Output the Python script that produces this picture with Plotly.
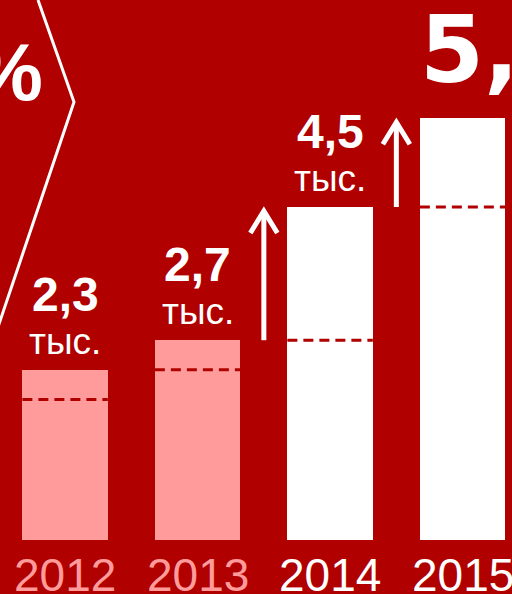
import plotly.graph_objects as go

# ---- data ----
years = ["2012", "2013", "2014", "2015"]
values = [2.3, 2.7, 4.5, 5.7]          # тыс.
prev_values = [1.9, 2.3, 2.7, 4.5]     # previous-year level (dashed marks)
value_labels = ["2,3", "2,7", "4,5", "5,7"]
unit_label = "тыс."
is_forecast = [False, False, True, True]

BG = "#B00000"
PINK = "#FF9B9B"
WHITE = "#FFFFFF"
FONT = "Liberation Sans, Arial, sans-serif"
FONT_WIDE = "DejaVu Sans, Verdana, sans-serif"

W, H = 512, 594
x_idx = list(range(len(years)))
bar_w = 0.645
colors = [WHITE if f else PINK for f in is_forecast]

px_per_unit = 74.0
base_px = 540.0
y_top = base_px / px_per_unit
y_bot = -(H - base_px) / px_per_unit
x0_px, pitch = 65.1, 132.5
dx = 1 / pitch        # data units per pixel (x)
dy = 1 / px_per_unit  # data units per pixel (y)

fig = go.Figure()
fig.add_trace(go.Bar(
    x=x_idx, y=values, width=bar_w,
    marker=dict(color=colors, line=dict(width=0)),
    hoverinfo="skip", showlegend=False,
))

shapes = []
annotations = []

# dashed marks of previous level inside each bar
for i, pv in enumerate(prev_values):
    shapes.append(dict(
        type="line", xref="x", yref="y",
        x0=i - bar_w / 2, x1=i + bar_w / 2, y0=pv, y1=pv,
        line=dict(color=BG, width=3, dash="10px,6px"),
    ))

# year labels
for i, yr in enumerate(years):
    annotations.append(dict(
        x=i, xref="x", y=0, yref="paper", yanchor="bottom", xanchor="center",
        text=yr, showarrow=False, yshift=-9,
        font=dict(family=FONT, size=46, color=colors[i]),
    ))

# value labels for first three bars
for i in range(3):
    annotations.append(dict(
        x=i, xref="x", y=values[i], yref="y", yanchor="bottom", xanchor="center",
        text="<b>" + value_labels[i] + "</b>", showarrow=False, yshift=47,
        font=dict(family=FONT, size=48, color=WHITE),
    ))
    annotations.append(dict(
        x=i, xref="x", y=values[i], yref="y", yanchor="bottom", xanchor="center",
        text=unit_label, showarrow=False, yshift=6,
        font=dict(family=FONT, size=37, color=WHITE),
    ))

# big label for last bar (runs off the right edge)
annotations.append(dict(
    x=3, xref="x", y=values[3], yref="y", yanchor="bottom", xanchor="left",
    text="<b>" + value_labels[3] + "</b>", showarrow=False, yshift=12, xshift=-45,
    font=dict(family=FONT_WIDE, size=92, color=WHITE),
))

# growth arrows between forecast bars (shaft + open chevron head)
for i in (2, 3):
    xa = i - 0.5
    tip = values[i] - 4 * dy
    shapes.append(dict(
        type="line", xref="x", yref="y",
        x0=xa, x1=xa, y0=prev_values[i], y1=tip - 2 * dy,
        line=dict(color=WHITE, width=5),
    ))
    shapes.append(dict(
        type="path", xref="x", yref="y",
        path=(f"M {xa - 13.5 * dx},{tip - 22 * dy} "
              f"L {xa},{tip} L {xa + 13.5 * dx},{tip - 22 * dy}"),
        line=dict(color=WHITE, width=5),
    ))

# percent sign partially visible at top-left
annotations.append(dict(
    x=45 / W, xref="paper", y=1 - 24 / H, yref="paper",
    xanchor="right", yanchor="top", text="<b>%</b>", showarrow=False,
    font=dict(family=FONT, size=82, color=WHITE),
))

# chevron outline
shapes.append(dict(
    type="path", xref="paper", yref="paper",
    path=f"M {38/W},{1-0/H} L {74/W},{1-102/H} L {-2/W},{1-327/H}",
    line=dict(color=WHITE, width=3),
))

fig.update_layout(
    width=W, height=H,
    margin=dict(l=0, r=0, t=0, b=0),
    paper_bgcolor=BG, plot_bgcolor=BG,
    xaxis=dict(range=[-x0_px / pitch, (W - x0_px) / pitch], visible=False, fixedrange=True),
    yaxis=dict(range=[y_bot, y_top], visible=False, fixedrange=True),
    shapes=shapes, annotations=annotations,
    bargap=0,
)

fig.write_html(
    "out.html",
    config={"displayModeBar": False},
    post_script="document.body.style.margin='0';document.body.style.padding='0';document.body.style.overflow='hidden';",
)
